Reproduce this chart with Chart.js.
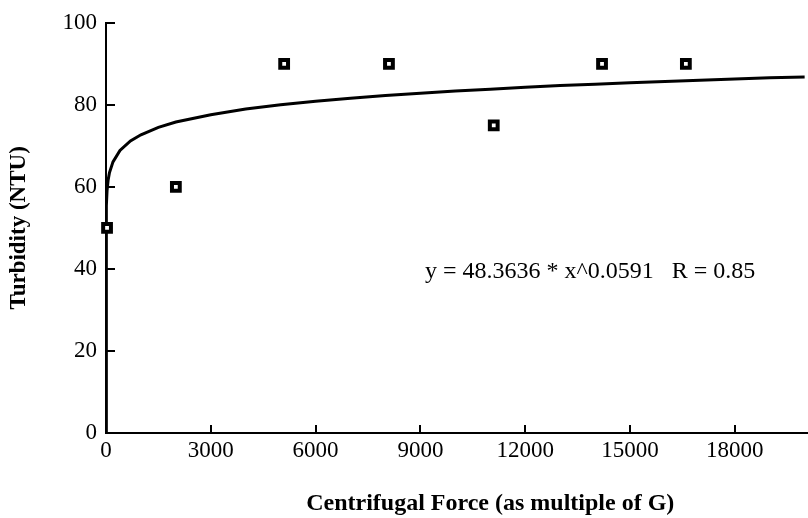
<!DOCTYPE html>
<html lang="en">
<head>
    <meta charset="UTF-8">
    <title>Turbidity vs Centrifugal Force</title>
    <script src="https://cdn.jsdelivr.net/npm/chart.js"></script>
    <style>
        html, body { margin: 0; padding: 0; background: #fff; overflow: hidden; }
        #wrap { width: 808px; height: 518px; overflow: hidden; }
        #box { width: 884px; height: 518px; position: relative; }
    </style>
</head>
<body>

    <!-- plot is cropped on the right like the original -->
    <div id="wrap">
        <div id="box">
            <canvas id="turbChart"></canvas>
        </div>
    </div>

    <script>
        // measured samples
        const forceG = [30, 2000, 5100, 8100, 11100, 14200, 16600];
        const turbidity = [50, 60, 90, 90, 75, 90, 90];

        // fitted curve
        const fitForce = [0, 10, 30, 60, 100, 200, 400, 700, 1000, 1500, 2000, 3000, 4000, 5000,
            6000, 7000, 8000, 9000, 10000, 11000, 12000, 13000, 14000, 15000, 16000, 17000,
            18000, 19000, 20000];
        const fitTurbidity = [0, 55.4, 59.1, 61.6, 63.5, 66.1, 68.9, 71.2, 72.7, 74.5, 75.8, 77.6,
            79.0, 80.0, 80.9, 81.6, 82.3, 82.8, 83.4, 83.8, 84.3, 84.7, 85.0, 85.4, 85.7, 86.0,
            86.3, 86.6, 86.8];

        const xTicks = [0, 3000, 6000, 9000, 12000, 15000, 18000, 21000];
        const yTicks = [0, 20, 40, 60, 80, 100];
        const fitLabel = 'y = 48.3636 * x^0.0591   R = 0.85';

        const serif = 'Liberation Serif';

        // inward tick marks + equation text
        const extras = {
            id: 'extras',
            afterDraw(chart) {
                const ctx = chart.ctx;
                const xs = chart.scales.x;
                const ys = chart.scales.y;
                const area = chart.chartArea;
                ctx.save();
                ctx.strokeStyle = '#000';
                ctx.lineWidth = 2;
                ctx.beginPath();
                xTicks.forEach(v => {
                    const px = Math.round(xs.getPixelForValue(v));
                    ctx.moveTo(px, area.bottom);
                    ctx.lineTo(px, area.bottom - 8);
                });
                yTicks.forEach(v => {
                    const py = Math.round(ys.getPixelForValue(v));
                    ctx.moveTo(area.left, py);
                    ctx.lineTo(area.left + 9, py);
                });
                ctx.stroke();

                ctx.fillStyle = '#000';
                ctx.font = '24px "' + serif + '"';
                ctx.textAlign = 'left';
                ctx.textBaseline = 'middle';
                ctx.fillText(fitLabel, xs.getPixelForValue(9130), ys.getPixelForValue(39.3));
                ctx.restore();
            }
        };

        const ctx = document.getElementById('turbChart').getContext('2d');
        const turbChart = new Chart(ctx, {
            type: 'scatter',
            data: {
                datasets: [
                    {
                        label: 'Samples',
                        data: forceG.map((f, i) => ({ x: f, y: turbidity[i] })),
                        pointStyle: 'rect',
                        pointRadius: 5.5,
                        pointBackgroundColor: '#fff',
                        pointBorderColor: '#000',
                        pointBorderWidth: 4,
                        clip: false,
                        order: 0
                    },
                    {
                        label: 'Fit',
                        data: fitForce.map((f, i) => ({ x: f, y: fitTurbidity[i] })),
                        showLine: true,
                        borderColor: '#000',
                        borderWidth: 3,
                        pointRadius: 0,
                        tension: 0,
                        order: 1
                    }
                ]
            },
            options: {
                responsive: true,
                maintainAspectRatio: false,
                animation: false,
                layout: { padding: { top: 20, right: 3, left: 0, bottom: 0 } },
                plugins: {
                    legend: { display: false },
                    tooltip: { enabled: false }
                },
                scales: {
                    x: {
                        type: 'linear',
                        min: 0,
                        max: 22000,
                        afterBuildTicks: scale => {
                            scale.ticks = xTicks.map(v => ({ value: v }));
                        },
                        afterFit: scale => { scale.height = 85; },
                        grid: { display: false, drawTicks: false },
                        border: { display: true, color: '#000', width: 2 },
                        ticks: {
                            color: '#000',
                            padding: 4,
                            maxRotation: 0,
                            callback: v => String(v),
                            font: { family: serif, size: 23 }
                        },
                        title: {
                            display: true,
                            text: 'Centrifugal Force (as multiple of G)',
                            color: '#000',
                            padding: { top: 4, bottom: 0 },
                            font: { family: serif, size: 24, weight: 'bold' }
                        }
                    },
                    y: {
                        min: 0,
                        max: 100,
                        afterBuildTicks: scale => {
                            scale.ticks = yTicks.map(v => ({ value: v }));
                        },
                        afterFit: scale => { scale.width = 106; },
                        grid: { display: false, drawTicks: false },
                        border: { display: true, color: '#000', width: 2 },
                        ticks: {
                            color: '#000',
                            padding: 9,
                            callback: v => String(v),
                            font: { family: serif, size: 23 }
                        },
                        title: {
                            display: true,
                            text: 'Turbidity (NTU)',
                            color: '#000',
                            padding: { top: 5, bottom: 0 },
                            font: { family: serif, size: 23, weight: 'bold' }
                        }
                    }
                }
            },
            plugins: [extras]
        });
    </script>

</body>
</html>
